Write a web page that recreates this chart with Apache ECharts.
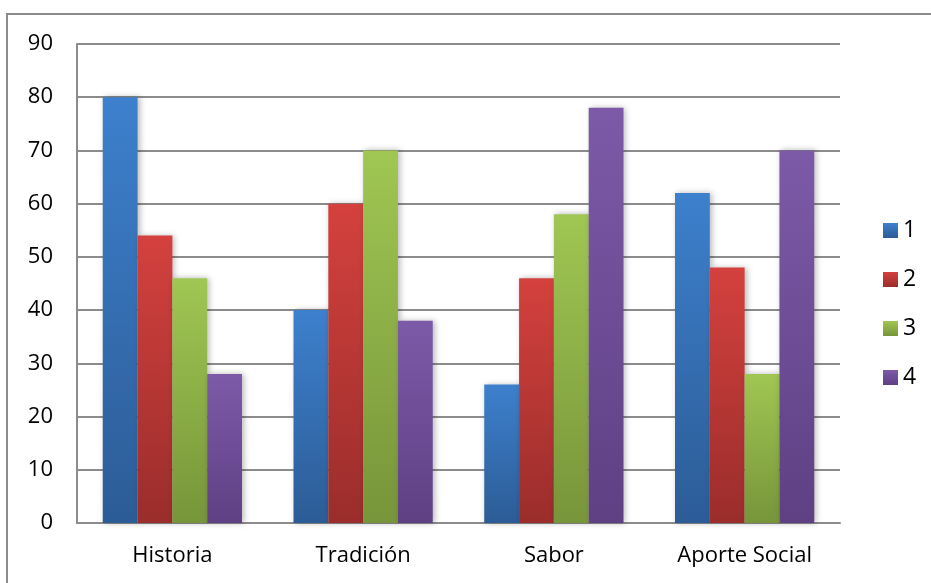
<!DOCTYPE html>
<html>
<head>
<meta charset="utf-8">
<script src="https://cdn.jsdelivr.net/npm/echarts@6/dist/echarts.min.js"></script>
<style>
  html, body { margin: 0; padding: 0; background: #ffffff; }
  #chart { width: 931px; height: 583px; }
</style>
</head>
<body>
<div id="chart"></div>
<script>
// Categories and the four rating series
const categories = ['Historia', 'Tradición', 'Sabor', 'Aporte Social'];
const seriesNames = ['1', '2', '3', '4'];
const values1 = [80, 40, 26, 62];
const values2 = [54, 60, 46, 48];
const values3 = [46, 70, 58, 28];
const values4 = [28, 38, 78, 70];
const yTicks = { min: 0, max: 90, step: 10 };

// Top/bottom gradient stops for each series
const palette = [
  ['#3d80cd', '#2c5c96'],
  ['#d4413e', '#9a2d2b'],
  ['#a0c653', '#77953a'],
  ['#7d5aa8', '#5e4083']
];

const allValues = [values1, values2, values3, values4];
const FONT = '"Open Sans", "Noto Sans", sans-serif';

function grad(pair) {
  return new echarts.graphic.LinearGradient(0, 0, 0, 1, [
    { offset: 0, color: pair[0] },
    { offset: 1, color: pair[1] }
  ]);
}

const chart = echarts.init(document.getElementById('chart'), null, { renderer: 'canvas' });

chart.setOption({
  animation: false,
  backgroundColor: '#ffffff',
  graphic: [{
    type: 'rect',
    shape: { x: 7, y: 14, width: 960, height: 620 },
    style: { fill: 'none', stroke: '#8c8c8c', lineWidth: 2 },
    z: 0
  }],
  grid: { left: 77, right: 91, top: 44, bottom: 60, containLabel: false },
  legend: {
    orient: 'vertical',
    left: 883,
    top: 219,
    padding: 0,
    itemWidth: 15,
    itemHeight: 15,
    itemGap: 26,
    icon: 'rect',
    textStyle: { fontFamily: FONT, fontSize: 23, color: '#000' },
    data: seriesNames
  },
  xAxis: {
    type: 'category',
    data: categories,
    axisLine: { show: true, lineStyle: { color: '#8c8c8c', width: 2 } },
    axisTick: { show: false },
    axisLabel: { fontFamily: FONT, fontSize: 22, color: '#000', margin: 22 }
  },
  yAxis: {
    type: 'value',
    min: yTicks.min,
    max: yTicks.max,
    interval: yTicks.step,
    axisLine: { show: true, lineStyle: { color: '#8c8c8c', width: 2 } },
    axisTick: { show: false },
    splitLine: { show: true, lineStyle: { color: '#8c8c8c', width: 2 } },
    axisLabel: { fontFamily: FONT, fontSize: 22, color: '#000', margin: 24 }
  },
  series: allValues.map((vals, i) => ({
    name: seriesNames[i],
    type: 'bar',
    data: vals,
    barGap: '0%',
    barCategoryGap: '27%',
    itemStyle: {
      color: grad(palette[i]),
      shadowBlur: 6,
      shadowColor: 'rgba(0,0,0,0.28)',
      shadowOffsetX: 2,
      shadowOffsetY: 0
    }
  }))
});
</script>
</body>
</html>
